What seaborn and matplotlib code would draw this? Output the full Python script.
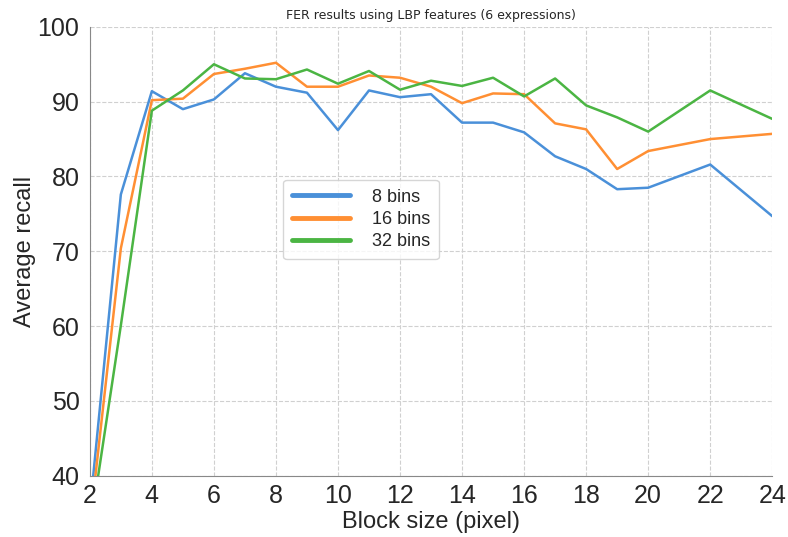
import seaborn as sns
import pandas as pd
import matplotlib.pyplot as plt

# block sizes (pixel)
block = [2, 3, 4, 5, 6, 7, 8, 9, 10, 11, 12, 13, 14, 15, 16, 17, 18, 19, 20, 22, 24]
bins8 = [35.4, 77.6, 91.4, 89.0, 90.3, 93.8, 92.0, 91.2, 86.2, 91.5, 90.6, 91.0, 87.2, 87.2, 85.9, 82.7, 81.0, 78.3, 78.5, 81.6, 74.7]
bins16 = [33.3, 70.4, 90.2, 90.4, 93.7, 94.4, 95.2, 92.0, 92.0, 93.5, 93.2, 92.0, 89.8, 91.1, 91.0, 87.1, 86.3, 81.0, 83.4, 85.0, 85.7]
bins32 = [32.6, 60.1, 88.8, 91.5, 95.0, 93.1, 93.0, 94.3, 92.4, 94.1, 91.6, 92.8, 92.1, 93.2, 90.7, 93.1, 89.5, 87.9, 86.0, 91.5, 87.7]
labels = ['8 bins', '16 bins', '32 bins']
colors = ['#4a90d9', '#ff8f33', '#4bb543']

df = pd.concat([
    pd.DataFrame({'block': block, 'recall': vals, 'bins': lab})
    for vals, lab in zip([bins8, bins16, bins32], labels)
])

sns.set_style('white')
plt.rcParams['font.family'] = ['Liberation Sans', 'DejaVu Sans']

fig = plt.figure(figsize=(7.88, 5.37), dpi=100)
ax = fig.add_axes([0.114, 0.114, 0.866, 0.836])

sns.lineplot(data=df, x='block', y='recall', hue='bins', palette=colors,
             linewidth=1.8, ax=ax)

ax.set_xlim(2, 24)
ax.set_ylim(40, 100)
ax.set_xticks([2, 4, 6, 8, 10, 12, 14, 16, 18, 20, 22, 24])
ax.set_yticks([40, 50, 60, 70, 80, 90, 100])
ax.tick_params(labelsize=18, length=4, color='#888888', direction='out')
ax.tick_params(axis='x', pad=2)
ax.grid(True, linestyle='--', color='#d0d0d0', linewidth=0.8)
ax.set_xlabel('Block size (pixel)', fontsize=17, labelpad=2)
ax.set_ylabel('Average recall', fontsize=17, labelpad=1)
ax.set_title('FER results using LBP features (6 expressions)', fontsize=9,
             family=['DejaVu Sans'], pad=6)

for s in ['top', 'right']:
    ax.spines[s].set_visible(False)
for s in ['left', 'bottom']:
    ax.spines[s].set_color('#888888')

leg = ax.legend(loc='upper left', bbox_to_anchor=(0.27, 0.68), fontsize=13,
                frameon=True, handlelength=3.2, labelspacing=0.3,
                borderpad=0.5, handletextpad=1.2)
for ln in leg.get_lines():
    ln.set_linewidth(3.5)

fig.savefig('out.png', dpi=100)
